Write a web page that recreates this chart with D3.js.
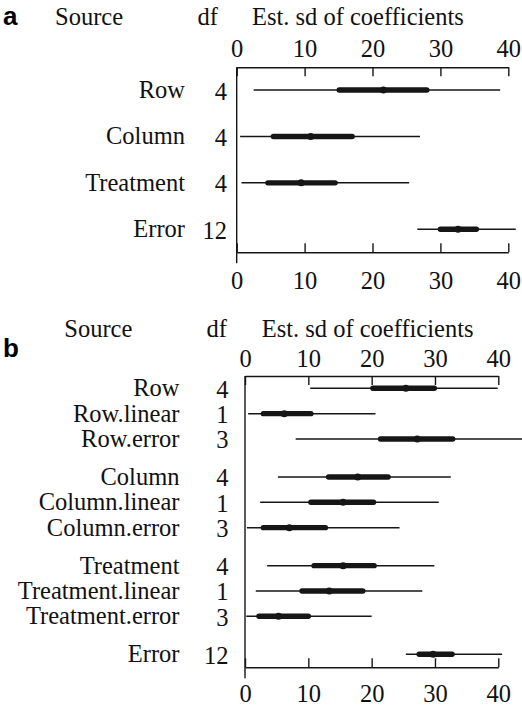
<!DOCTYPE html>
<html>
<head>
<meta charset="utf-8">
<script src="https://cdn.jsdelivr.net/npm/d3@7"></script>
</head>
<body style="margin:0; background:#fff">
<svg width="522" height="706"></svg>
<script>
// panel a
const sourcesA = ["Row", "Column", "Treatment", "Error"];
const dfA = [4, 4, 4, 12];
const lowA = [2.5, 0.5, 0.7, 26.6];
const q25A = [15.1, 5.4, 4.6, 30.0];
const medA = [21.6, 10.9, 9.5, 32.6];
const q75A = [28.0, 17.0, 14.5, 35.3];
const highA = [38.8, 27.0, 25.4, 41.1];

// panel b
const sourcesB = ["Row", "Row.linear", "Row.error", "Column", "Column.linear", "Column.error",
  "Treatment", "Treatment.linear", "Treatment.error", "Error"];
const groupB = [0, 0, 0, 1, 1, 1, 2, 2, 2, 3];
const dfB = [4, 1, 3, 4, 1, 3, 4, 1, 3, 12];
const lowB = [10.3, 0.5, 8.0, 5.2, 2.4, 0.3, 3.5, 1.7, 0.2, 25.4];
const q25B = [20.2, 2.9, 21.4, 13.2, 10.4, 2.9, 10.9, 9.0, 2.2, 27.5];
const medB = [25.4, 6.2, 27.2, 17.8, 15.5, 7.0, 15.5, 13.3, 5.3, 29.7];
const q75B = [29.9, 10.4, 32.8, 22.6, 20.3, 12.7, 20.4, 18.6, 10.0, 32.7];
const highB = [39.9, 20.6, 44, 32.5, 30.6, 24.4, 29.9, 28.0, 20.0, 40.6];

const xTicks = [0, 10, 20, 30, 40];
const headers = ["Source", "df", "Est. sd of coefficients"];

const svg = d3.select('svg');
const ink = '#161616';
const serif = '"Liberation Serif", "Times New Roman", serif';

function serifText(sel) {
  return sel.style('font-family', serif).style('font-size', '24.5px').attr('fill', '#111');
}

function panel(opts) {
  const g = svg.append('g');
  const x = d3.scaleLinear().domain([0, 40]).range(opts.xRange);
  const y = opts.y;

  // header row
  g.append('text').text(opts.letter)
    .attr('x', 3).attr('y', opts.letterY)
    .style('font-family', '"Liberation Sans", Arial, sans-serif')
    .style('font-weight', 'bold').style('font-size', '26px');
  headers.forEach((h, i) => {
    serifText(g.append('text').text(h)
      .attr('x', opts.headX[i]).attr('y', opts.headY));
  });

  // axes
  const top = g.append('g')
    .attr('transform', `translate(0,${opts.top})`)
    .call(d3.axisTop(x).tickValues(xTicks).tickSizeInner(-9).tickSizeOuter(0).tickPadding(opts.topPad));
  const bot = g.append('g')
    .attr('transform', `translate(0,${opts.bottom})`)
    .call(d3.axisBottom(x).tickValues(xTicks).tickSizeInner(-9).tickSizeOuter(0).tickPadding(opts.botPad));
  [top, bot].forEach(a => {
    a.attr('font-family', null).attr('font-size', null);
    serifText(a.selectAll('text'));
    a.selectAll('line, path').attr('stroke', ink).attr('stroke-width', 1.4);
  });
  g.append('line')
    .attr('x1', x(0)).attr('x2', x(0))
    .attr('y1', opts.top).attr('y2', opts.bottom + 11)
    .attr('stroke', ink).attr('stroke-width', 1.4);

  const rows = opts.sources.map((s, i) => ({
    s, i, df: opts.df[i], lo: opts.low[i], q1: opts.q25[i], md: opts.med[i], q3: opts.q75[i], hi: opts.high[i]
  }));

  const r = g.selectAll('.row').data(rows).enter().append('g').attr('class', 'row');
  serifText(r.append('text').text(d => d.s)
    .attr('x', opts.labelX).attr('y', d => y(d) + 8)
    .attr('text-anchor', 'end'));
  serifText(r.append('text').text(d => d.df)
    .attr('x', opts.dfX).attr('y', d => y(d) + 9.5)
    .attr('text-anchor', 'end'));
  r.append('line')
    .attr('x1', d => x(d.lo)).attr('x2', d => x(d.hi))
    .attr('y1', d => y(d)).attr('y2', d => y(d))
    .attr('stroke', ink).attr('stroke-width', 1.5);
  r.append('line')
    .attr('x1', d => x(d.q1)).attr('x2', d => x(d.q3))
    .attr('y1', d => y(d)).attr('y2', d => y(d))
    .attr('stroke', ink).attr('stroke-width', 5.4).attr('stroke-linecap', 'round');
  r.append('circle')
    .attr('cx', d => x(d.md)).attr('cy', d => y(d)).attr('r', 3.5)
    .attr('fill', ink);
}

const yA = d3.scalePoint().domain(sourcesA).range([90, 229.3]);
panel({
  letter: 'a', letterY: 25, headY: 25, headX: [55, 197.5, 252],
  xRange: [236.7, 508.3], top: 67.3, bottom: 252.3, topPad: 10, botPad: 19,
  labelX: 185, dfX: 227,
  y: d => yA(d.s),
  sources: sourcesA, df: dfA, low: lowA, q25: q25A, med: medA, q75: q75A, high: highA
});

// rows in panel b sit on an index scale, with half a step between groups
const yB = d3.scaleLinear().domain([0, 10.5]).range([388.3, 654.3]);
panel({
  letter: 'b', letterY: 356.5, headY: 336.5, headX: [64.3, 206.5, 261.7],
  xRange: [245, 498.3], top: 376, bottom: 667.3, topPad: 9.5, botPad: 17.5,
  labelX: 179.5, dfX: 228.5,
  y: d => yB(d.i + 0.5 * groupB[d.i]),
  sources: sourcesB, df: dfB, low: lowB, q25: q25B, med: medB, q75: q75B, high: highB
});
</script>
</body>
</html>
